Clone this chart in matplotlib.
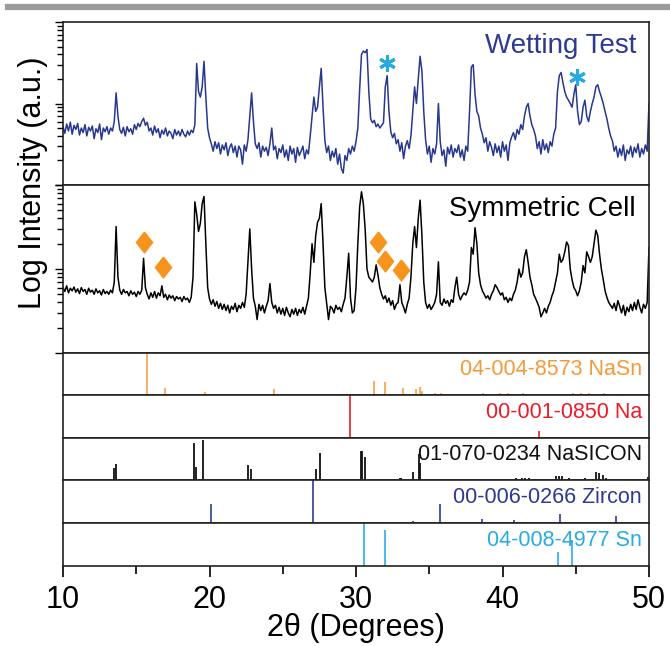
import numpy as np
import matplotlib
matplotlib.use("Agg")
import matplotlib.pyplot as plt
from matplotlib.lines import Line2D

plt.rcParams['font.family'] = ['Liberation Sans', 'DejaVu Sans']

# 2theta grid of the scans, 0.125 deg step
two_theta = np.arange(321) * 0.125 + 10

# Wetting Test intensities, one row per degree (10 ... 49.875), then 50
wet_y = [
    5.2, 4.3, 5.6, 4.6, 5.9, 4.2, 5.4, 4.8,
    5.7, 4.1, 5.0, 4.4, 5.5, 4.0, 5.1, 4.6,
    5.3, 3.7, 4.9, 4.4, 5.6, 3.6, 5.0, 4.5,
    5.2, 4.2, 5.0, 4.6, 6.0, 13.5, 7.0, 4.8,
    4.3, 5.1, 4.0, 5.2, 4.5, 4.9, 4.2, 5.5,
    4.8, 5.7, 5.2, 6.0, 6.6, 5.4, 5.9, 4.6,
    5.0, 4.1, 5.3, 4.4, 4.9, 3.8, 4.7, 4.2,
    5.0, 4.0, 4.6, 4.3, 3.7, 4.8, 4.1, 4.6,
    4.0, 4.8, 4.2, 3.9, 4.6, 4.1, 4.7, 4.4,
    5.5, 31, 14, 12, 16, 33, 12, 5.0,
    3.8, 3.2, 2.6, 3.4, 2.8, 3.3, 2.4, 3.1,
    2.7, 3.3, 2.3, 2.9, 3.2, 2.5, 3.0, 2.2,
    3.0, 2.7, 1.8, 3.1, 2.6, 3.6, 7.0, 13.5,
    6.0, 3.2, 2.8, 3.3, 2.2, 3.0, 2.6, 2.9,
    2.3, 3.2, 5.0, 2.7, 3.0, 2.1, 2.8, 2.5,
    3.1, 2.2, 2.7, 2.0, 3.0, 2.4, 2.8, 1.9,
    2.9, 2.3, 2.6, 3.0, 2.1, 2.7, 2.4, 4.0,
    7.0, 12, 8.0, 9.0, 16, 27, 9.0, 3.5,
    2.5, 3.0, 2.0, 2.6, 2.2, 2.8, 1.8, 2.4,
    1.6, 1.4, 2.3, 2.0, 2.8, 2.4, 3.0, 2.6,
    3.4, 5.0, 15, 40, 44, 42, 46, 14,
    6.5, 5.8, 6.2, 5.2, 5.6, 5.0, 5.4, 5.8,
    16, 22, 8.0, 4.5, 3.8, 4.3, 3.2, 3.6,
    2.6, 3.3, 2.1, 3.0, 3.5, 2.8, 4.0, 8.0,
    16, 10, 20, 38, 25, 8.0, 3.6, 2.4,
    3.0, 1.9, 2.8, 2.4, 3.2, 10, 3.4, 2.3,
    2.7, 1.7, 2.9, 2.4, 3.1, 2.2, 2.8, 2.5,
    3.1, 2.2, 2.7, 2.0, 3.0, 2.6, 8.0, 28,
    30, 13, 8.0, 7.0, 5.0, 4.2, 3.3, 3.8,
    2.6, 3.4, 2.9, 2.3, 3.2, 2.5, 3.0, 2.2,
    3.4, 2.6, 3.1, 2.0, 3.3, 3.9, 4.4, 3.6,
    4.8, 4.2, 5.5, 4.8, 7.0, 9.0, 10, 7.0,
    5.5, 4.8, 4.0, 2.8, 3.4, 2.4, 3.6, 2.7,
    3.2, 2.5, 3.4, 3.0, 4.2, 5.0, 14, 22,
    24, 18, 14, 12, 11, 10, 9.0, 13,
    17, 8.0, 5.5, 6.0, 9.0, 11, 7.0, 6.0,
    8.0, 10, 12, 16, 17, 14, 12, 10,
    8.0, 6.5, 5.0, 4.0, 3.5, 2.6, 3.0, 2.2,
    2.8, 2.3, 3.1, 2.0, 2.7, 2.4, 3.0, 2.2,
    2.9, 2.5, 3.2, 2.2, 2.8, 2.4, 3.1, 2.6,
    10,
]

# Symmetric Cell intensities, same grid
sym_y = [
    6.0, 5.4, 6.3, 5.2, 5.9, 5.5, 6.1, 5.3,
    5.8, 5.1, 6.0, 5.4, 5.7, 5.0, 5.9, 5.3,
    5.6, 5.0, 5.8, 5.2, 5.5, 4.9, 5.7, 5.1,
    5.4, 5.0, 5.6, 5.2, 7.0, 32, 8.0, 5.6,
    5.0, 5.7, 5.2, 5.4, 4.8, 5.5, 5.0, 5.3,
    4.7, 5.4, 5.0, 5.6, 13.4, 6.0, 5.0, 4.4,
    5.2, 4.6, 5.4, 4.5, 5.2, 4.8, 6.3, 4.6,
    5.0, 4.3, 4.9, 4.5, 4.8, 4.2, 4.7, 4.4,
    4.6, 4.1, 4.7, 4.3, 4.5, 4.0, 4.6, 8.0,
    63, 45, 28, 35, 60, 73, 20, 6.0,
    4.4, 3.8, 4.3, 3.6, 4.1, 3.4, 3.9, 3.3,
    3.8, 3.2, 3.7, 3.0, 3.6, 3.3, 3.9, 3.1,
    3.7, 3.4, 4.0, 3.5, 5.0, 12, 30, 10,
    4.5, 3.6, 2.5, 3.8, 3.2, 3.7, 3.0, 3.6,
    4.2, 6.7, 4.0, 3.4, 3.7, 3.0, 3.5, 2.9,
    3.4, 2.8, 3.5, 3.0, 2.7, 3.3, 2.9, 3.4,
    2.8, 3.3, 3.0, 3.5, 2.9, 3.6, 4.5, 9.0,
    20, 12, 25, 36, 40, 60, 20, 6.0,
    3.9, 2.5, 3.6, 3.4, 3.0, 3.7, 3.3, 3.5,
    3.1, 3.8, 4.5, 8.0, 15.4, 4.5, 3.0, 3.2,
    6.0, 20, 55, 83, 60, 30, 10, 8.0,
    7.5, 7.0, 8.0, 11.2, 8.5, 6.0, 5.0, 4.4,
    4.8, 4.0, 4.5, 3.7, 4.2, 3.3, 3.8, 4.0,
    6.5, 4.0, 3.5, 3.0, 3.8, 4.5, 8.0, 20,
    32, 18, 40, 66, 25, 7.0, 4.0, 3.4,
    3.8, 3.3, 3.6, 4.0, 5.0, 12.2, 4.0, 3.7,
    4.4, 3.9, 4.2, 3.6, 4.3, 4.0, 6.0, 8.0,
    5.0, 4.3, 4.8, 5.2, 4.9, 5.6, 7.0, 18,
    15, 31, 20, 9.0, 6.5, 5.5, 5.0, 4.5,
    4.8, 4.3, 5.0, 5.5, 6.5, 6.0, 5.4, 4.9,
    5.2, 4.3, 4.6, 4.0, 4.5, 4.2, 5.0, 5.6,
    7.0, 10, 8.0, 9.0, 14, 17, 12, 8.0,
    6.5, 5.0, 4.5, 4.0, 3.5, 2.7, 3.0, 3.4,
    3.0, 3.6, 4.0, 4.8, 5.5, 7.0, 9.0, 15,
    12, 13, 16, 21, 19, 10, 7.4, 6.0,
    5.5, 4.8, 5.5, 7.0, 11, 9.0, 16, 14,
    12, 14, 20, 29, 25, 15, 10, 7.5,
    5.5, 4.6, 4.0, 3.7, 3.4, 3.9, 3.2, 4.2,
    3.6, 3.0, 3.7, 2.8, 3.5, 3.1, 3.8, 3.2,
    4.0, 3.3, 4.3, 3.5, 3.0, 3.8, 3.4, 4.0,
    18,
]

# phase markers
star_x = [32.1, 45.1]
star_y = [31, 21]
diam_x = [15.55, 16.8, 31.5, 31.95, 33.1]
diam_y = [20.8, 10.6, 21, 12.4, 9.7]

# reference cards (position, relative height)
nasn_x = [15.75, 16.93, 19.67, 24.43, 28.9, 31.23, 32.0, 33.2, 34.1, 34.37, 34.5, 35.4, 35.8, 37.9,
          38.7, 39.86, 40.4, 41.4, 44.2, 44.8, 45.35, 45.9, 46.9, 48.2]
nasn_h = [1.0, 0.17, 0.08, 0.15, 0.02, 0.33, 0.3, 0.17, 0.15, 0.2, 0.1, 0.05, 0.04, 0.03,
          0.05, 0.04, 0.05, 0.05, 0.03, 0.04, 0.05, 0.05, 0.04, 0.03]
na_x = [29.58, 42.47]
na_h = [1.0, 0.16]
nasicon_x = [11.83, 13.5, 13.6, 18.94, 19.1, 19.57, 22.65, 22.8, 23.07, 23.86, 27.3, 27.52, 29.27,
             30.31, 30.44, 30.63, 31.23, 32.98, 33.1, 33.9, 34.29, 34.35, 38.63, 39.2, 39.86, 40.5,
             40.9, 41.3, 41.55, 41.8, 42.2, 42.7, 43.65, 43.83, 44.04, 44.56, 45.08, 45.6, 46.4,
             46.6, 46.86, 47.05, 47.4, 49.92]
nasicon_h = [0.02, 0.28, 0.37, 0.88, 0.3, 0.95, 0.35, 0.26, 0.03, 0.03, 0.25, 0.65, 0.02,
             0.68, 0.68, 0.55, 0.02, 0.04, 0.04, 0.2, 0.62, 0.4, 0.03, 0.02, 0.02, 0.03,
             0.04, 0.05, 0.05, 0.04, 0.03, 0.02, 0.1, 0.1, 0.09, 0.05, 0.03, 0.04, 0.18,
             0.16, 0.12, 0.05, 0.03, 0.08]
zircon_x = [20.07, 27.05, 33.9, 35.75, 38.6, 40.77, 43.9, 47.75]
zircon_h = [0.44, 1.0, 0.05, 0.44, 0.1, 0.07, 0.2, 0.16]
sn_x = [30.52, 31.96, 43.78, 44.77]
sn_h = [1.0, 0.83, 0.32, 0.6]

refs = [
    (nasn_x, nasn_h, '#f5a85a', '04-004-8573 NaSn', '#f49a3a'),
    (na_x, na_h, '#e5323c', '00-001-0850 Na', '#ec1c2a'),
    (nasicon_x, nasicon_h, '#111111', '01-070-0234 NaSICON', '#111111'),
    (zircon_x, zircon_h, '#3b4a9c', '00-006-0266 Zircon', '#2e3a8f'),
    (sn_x, sn_h, '#3fb3e6', '04-008-4977 Sn', '#29abe2'),
]

fig = plt.figure(figsize=(6.7, 6.46), dpi=100)
gs = fig.add_gridspec(7, 1, height_ratios=[163, 168, 42, 43, 42, 43, 43],
                      left=63/670, right=649/670, top=1-22/646, bottom=1-566/646, hspace=0)
axes = [fig.add_subplot(gs[i]) for i in range(7)]

for ax in axes:
    ax.set_xlim(10, 50)
    for s in ax.spines.values():
        s.set_linewidth(1.2)
        s.set_color('#222222')
    ax.tick_params(axis='x', which='both', bottom=False, labelbottom=False)

# measured patterns
for ax, y, col, lab, tcol in [(axes[0], wet_y, '#27388f', 'Wetting Test', '#2e3a8f'),
                              (axes[1], sym_y, '#000000', 'Symmetric Cell', '#000000')]:
    ax.plot(two_theta, y, color=col, lw=1.1)
    ax.set_yscale('log')
    ax.set_ylim(1, 100)
    ax.tick_params(axis='y', which='major', direction='out', length=6, width=1.0, labelleft=False)
    ax.tick_params(axis='y', which='minor', direction='out', length=4, width=1.0, labelleft=False)
    ax.text(0.978, 0.855, lab, transform=ax.transAxes, ha='right', va='center',
            fontsize=20, color=tcol)

axes[0].plot(star_x, star_y, ls='none', marker=(6, 2, 0), ms=12, mew=2.2, color='#27aae1')
diamond = [(0, 1), (0.78, 0), (0, -1), (-0.78, 0), (0, 1)]
axes[1].plot(diam_x, diam_y, ls='none', marker=diamond, ms=15, color='#f7941d', mec='#f7941d')

# reference sticks
for ax, (x, h, col, lab, tcol) in zip(axes[2:], refs):
    ax.vlines(x, 0, h, colors=col, lw=1.3)
    ax.set_ylim(0, 1)
    ax.set_yticks([])
    ax.text(0.988, 0.6, lab, transform=ax.transAxes, ha='right', va='center',
            fontsize=15.5, color=tcol)

bax = axes[-1]
bax.set_xticks([10, 20, 30, 40, 50])
bax.set_xticks([15, 25, 35, 45], minor=True)
bax.tick_params(axis='x', which='major', bottom=True, labelbottom=True, direction='out',
                length=8, width=1.2, labelsize=22, pad=6)
bax.tick_params(axis='x', which='minor', bottom=True, direction='out', length=6, width=1.2)

fig.text(0.049, 1-183/646, 'Log Intensity (a.u.)', rotation=90, ha='center', va='center', fontsize=22)
fig.text(356/670, 1-636/646, '2\u03b8 (Degrees)', ha='center', va='baseline', fontsize=22)

# grey rule at the top of the page
fig.add_artist(Line2D([8/670, 1.0], [1-7/646, 1-7/646], color='#9a9a9a', lw=4.5))

fig.savefig('out.png', dpi=100)
